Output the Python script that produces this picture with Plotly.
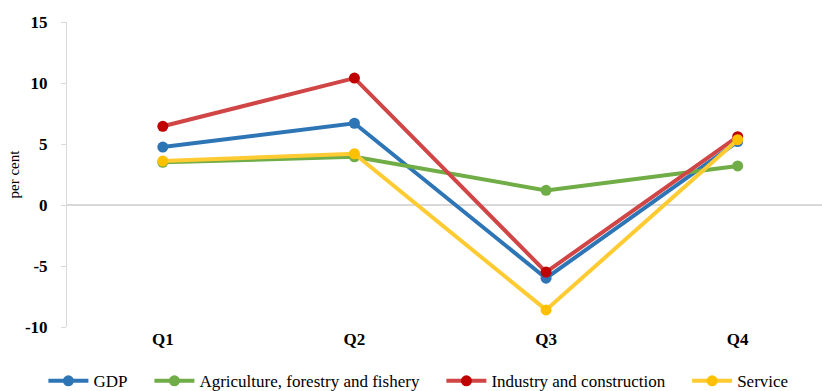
import plotly.graph_objects as go

quarters = ["Q1", "Q2", "Q3", "Q4"]
gdp = [4.75, 6.7, -6.0, 5.2]
agri = [3.5, 3.95, 1.2, 3.2]
industry = [6.45, 10.4, -5.5, 5.6]
service = [3.6, 4.2, -8.6, 5.35]
y_ticks = [-10, -5, 0, 5, 10, 15]
y_tick_text = ["-10", "-5", "0", "5", "10", "15"]

pad = "\u00a0" * 4
series = [
    ("GDP" + pad, gdp, "#2E75B6", "#2E75B6"),
    ("Agriculture, forestry and fishery" + pad, agri, "#70AD47", "#70AD47"),
    ("Industry and construction" + pad, industry, "#D04545", "#C00000"),
    ("Service", service, "#FFCB33", "#FFC000"),
]

fig = go.Figure()
for name, vals, lc, mc in series:
    fig.add_trace(go.Scatter(
        x=quarters, y=vals, name=name, mode="lines+markers",
        line=dict(color=lc, width=4),
        marker=dict(color=mc, size=11),
    ))

font_family = "Liberation Serif"
fig.update_layout(
    width=822, height=391,
    margin=dict(l=67, r=0, t=22, b=64),
    plot_bgcolor="white", paper_bgcolor="white",
    font=dict(family=font_family, color="black"),
    showlegend=True,
    legend=dict(
        orientation="h", xref="container", yref="container",
        x=0.509, xanchor="center", y=0.025, yanchor="middle",
        font=dict(size=17, family=font_family, color="black"),
        itemwidth=40,
    ),
    xaxis=dict(
        range=[-0.5, 3.44], showgrid=False, showline=False, zeroline=False,
        tickvals=quarters, ticktext=["<b>%s</b>" % q for q in quarters],
        ticks="", tickfont=dict(size=17, family=font_family, color="black"),
    ),
    yaxis=dict(
        range=[-10, 15], tickvals=y_ticks, ticktext=["<b>%s</b>" % t for t in y_tick_text],
        showgrid=False,
        showline=True, linecolor="#D9D9D9", linewidth=1,
        ticks="outside", ticklen=5, tickcolor="#D9D9D9",
        ticklabelstandoff=10,
        zeroline=True, zerolinecolor="#D9D9D9", zerolinewidth=1.5,
        tickfont=dict(size=17, family=font_family, color="black"),
        title=dict(text="per cent", font=dict(size=15, family=font_family), standoff=1),
    ),
)
fig.write_html("out.html")
